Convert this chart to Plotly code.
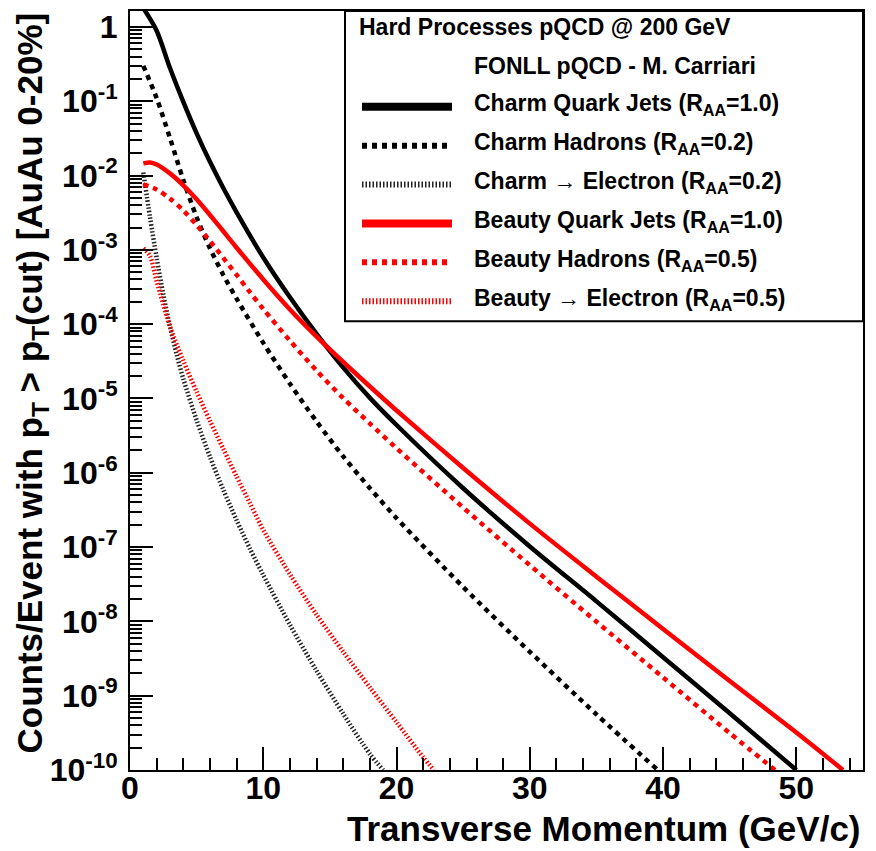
import plotly.graph_objects as go

# ---------------- data ----------------
pt_c_jet = [1, 2, 3, 4, 5, 6, 7, 8, 10, 12, 14, 16, 18, 20, 25, 30, 35, 40, 45, 50]
y_c_jet = [1.8, 0.89, 0.28, 9.8e-2, 3.7e-2, 1.53e-2, 6.8e-3, 3.2e-3, 7.9e-4, 2.3e-4,
           7.4e-5, 2.6e-5, 1.02e-5, 4.4e-6, 6.2e-7, 1.02e-7, 1.86e-8, 3.3e-9, 5.8e-10, 1.0e-10]

pt_c_had = [1, 2, 3, 4, 5, 6, 7, 8, 10, 12, 14, 16, 18, 20, 25, 30, 35, 39.6]
y_c_had = [0.30, 0.11, 3.2e-2, 8.7e-3, 2.75e-3, 1.05e-3, 4.6e-4, 2.2e-4, 5.6e-5, 1.58e-5,
           4.9e-6, 1.66e-6, 6.2e-7, 2.45e-7, 2.9e-8, 3.9e-9, 5.6e-10, 1.0e-10]

pt_c_ele = [1, 1.5, 2, 2.5, 3, 3.5, 4, 5, 6, 7, 8, 9, 10, 12, 14, 16, 18, 19]
y_c_ele = [1.1e-2, 2.75e-3, 7.8e-4, 2.5e-4, 9.3e-5, 3.9e-5, 1.84e-5, 5.1e-6, 1.64e-6,
           5.9e-7, 2.3e-7, 9.5e-8, 4.2e-8, 9.0e-9, 2.16e-9, 5.7e-10, 1.64e-10, 1.0e-10]

pt_b_jet = [1, 1.5, 2, 3, 4, 5, 6, 7, 8, 10, 12, 14, 16, 18, 20, 25, 30, 35, 40, 45, 50, 53.5]
y_b_jet = [1.46e-2, 1.5e-2, 1.41e-2, 1.07e-2, 7.4e-3, 4.8e-3, 2.95e-3, 1.78e-3, 1.07e-3,
           4.0e-4, 1.58e-4, 6.8e-5, 3.1e-5, 1.45e-5, 6.9e-6, 1.16e-6, 2.07e-7, 4.0e-8,
           7.9e-9, 1.58e-9, 3.2e-10, 1.0e-10]

pt_b_had = [1, 2, 3, 4, 5, 6, 7, 8, 9, 10, 12, 14, 16, 18, 20, 25, 30, 35, 40, 45, 48.4]
y_b_had = [7.6e-3, 6.5e-3, 4.9e-3, 3.4e-3, 2.16e-3, 1.32e-3, 7.8e-4, 4.6e-4, 2.7e-4,
           1.6e-4, 6.0e-5, 2.37e-5, 1.01e-5, 4.6e-6, 2.14e-6, 3.4e-7, 5.7e-8, 9.9e-9,
           1.76e-9, 3.13e-10, 1.0e-10]

pt_b_ele = [1, 1.5, 2, 3, 4, 5, 6, 7, 8, 9, 10, 12, 14, 16, 18, 20, 22, 22.8]
y_b_ele = [1.05e-3, 8.3e-4, 3.8e-4, 9.3e-5, 3.2e-5, 1.23e-5, 5.0e-6, 2.1e-6, 8.9e-7,
           3.9e-7, 1.7e-7, 4.3e-8, 1.23e-8, 3.9e-9, 1.29e-9, 4.4e-10, 1.48e-10, 1.0e-10]

y_tick_vals = [1e-10, 1e-9, 1e-8, 1e-7, 1e-6, 1e-5, 1e-4, 1e-3, 1e-2, 1e-1, 1]
y_tick_text = ["10<sup>-10</sup>", "10<sup>-9</sup>", "10<sup>-8</sup>", "10<sup>-7</sup>",
               "10<sup>-6</sup>", "10<sup>-5</sup>", "10<sup>-4</sup>", "10<sup>-3</sup>",
               "10<sup>-2</sup>", "10<sup>-1</sup>", "1"]

legend_header = "Hard Processes pQCD @ 200 GeV"
legend_sub = "FONLL pQCD - M. Carriari"
names = ["Charm Quark Jets (R<sub>AA</sub>=1.0)",
         "Charm Hadrons (R<sub>AA</sub>=0.2)",
         "Charm \u2192 Electron (R<sub>AA</sub>=0.2)",
         "Beauty Quark Jets (R<sub>AA</sub>=1.0)",
         "Beauty Hadrons (R<sub>AA</sub>=0.5)",
         "Beauty \u2192 Electron (R<sub>AA</sub>=0.5)"]

# ---------------- styles ----------------
W, H = 876, 851
L, R, T, B = 130, 13, 9, 81
PW, PH = W - L - R, H - T - B
FONT = "Liberation Sans"

styles = [
    dict(color="black", width=4.5, dash="solid"),
    dict(color="black", width=4.5, dash="5px,5px"),
    dict(color="#222222", width=4.5, dash="1.5px,2px"),
    dict(color="red", width=4.5, dash="solid"),
    dict(color="red", width=4.5, dash="5px,5px"),
    dict(color="red", width=4.5, dash="1.5px,2px"),
]
series = [(pt_c_jet, y_c_jet), (pt_c_had, y_c_had), (pt_c_ele, y_c_ele),
          (pt_b_jet, y_b_jet), (pt_b_had, y_b_had), (pt_b_ele, y_b_ele)]

fig = go.Figure()
for (xs, ys), st, nm in zip(series, styles, names):
    fig.add_trace(go.Scatter(x=xs, y=ys, mode="lines", name=nm,
                             line=dict(color=st["color"], width=st["width"],
                                       dash=st["dash"], shape="spline", smoothing=0.8),
                             showlegend=False))


def px2x(px):
    return (px - L) / PW


def py2y(py):
    return (H - B - py) / PH


shapes = []
annotations = []
# legend box
shapes.append(dict(type="rect", xref="paper", yref="paper",
                   x0=px2x(345), x1=px2x(863), y0=py2y(320), y1=py2y(9),
                   line=dict(color="black", width=2), fillcolor="white", layer="above"))
annotations.append(dict(xref="paper", yref="paper", x=px2x(357), y=py2y(25),
                        xanchor="left", yanchor="middle", text=legend_header, showarrow=False,
                        font=dict(family=FONT, size=23, color="black", weight="bold")))
annotations.append(dict(xref="paper", yref="paper", x=px2x(472), y=py2y(64),
                        xanchor="left", yanchor="middle", text=legend_sub, showarrow=False,
                        font=dict(family=FONT, size=23, color="black", weight="bold")))
row_y = [100, 139, 178, 217, 256, 295]
for ry, st, nm in zip(row_y, styles, names):
    shapes.append(dict(type="line", xref="paper", yref="paper",
                       x0=px2x(362), x1=px2x(452), y0=py2y(ry + 5), y1=py2y(ry + 5),
                       line=dict(color=st["color"], width=8 if st["dash"] == "solid" else 6,
                                 dash=st["dash"]), layer="above"))
    annotations.append(dict(xref="paper", yref="paper", x=px2x(472), y=py2y(ry + 3),
                            xanchor="left", yanchor="middle", text=nm, showarrow=False,
                            font=dict(family=FONT, size=23, color="black", weight="bold")))

# axis titles (ROOT style: aligned to axis end)
annotations.append(dict(xref="paper", yref="paper", x=px2x(863), y=py2y(829),
                        xanchor="right", yanchor="middle",
                        text="Transverse Momentum (GeV/c)", showarrow=False,
                        font=dict(family=FONT, size=35, color="black", weight="bold")))
annotations.append(dict(xref="paper", yref="paper", x=px2x(31), y=py2y(9),
                        xanchor="center", yanchor="top", textangle=-90,
                        text="Counts/Event with p<sub>T</sub> &gt; p<sub>T</sub>(cut) [AuAu 0-20%]",
                        showarrow=False,
                        font=dict(family=FONT, size=35, color="black", weight="bold")))

fig.update_layout(
    width=W, height=H,
    margin=dict(l=L, r=R, t=T, b=B, pad=0),
    paper_bgcolor="white", plot_bgcolor="white",
    showlegend=False,
    shapes=shapes, annotations=annotations,
    font=dict(family=FONT, color="black"),
)
fig.update_xaxes(range=[0, 55], showgrid=False, zeroline=False,
                 showline=True, linecolor="black", linewidth=2, mirror=True,
                 ticks="inside", ticklen=23, tickwidth=2, tickcolor="black",
                 tick0=0, dtick=10, ticklabelstandoff=-11,
                 minor=dict(ticks="inside", ticklen=12, tickwidth=2, tickcolor="black", dtick=2),
                 tickfont=dict(family=FONT, size=32, color="black", weight="bold"))
fig.update_yaxes(type="log", range=[-10, 0.215], showgrid=False, zeroline=False,
                 showline=True, linecolor="black", linewidth=2, mirror=True,
                 ticks="inside", ticklen=23, tickwidth=2, tickcolor="black",
                 tickvals=y_tick_vals, ticktext=y_tick_text,
                 minor=dict(ticks="inside", ticklen=12, tickwidth=2, tickcolor="black", dtick="D1"),
                 ticklabelstandoff=4,
                 tickfont=dict(family=FONT, size=32, color="black", weight="bold"))

fig.write_html("out.html")
